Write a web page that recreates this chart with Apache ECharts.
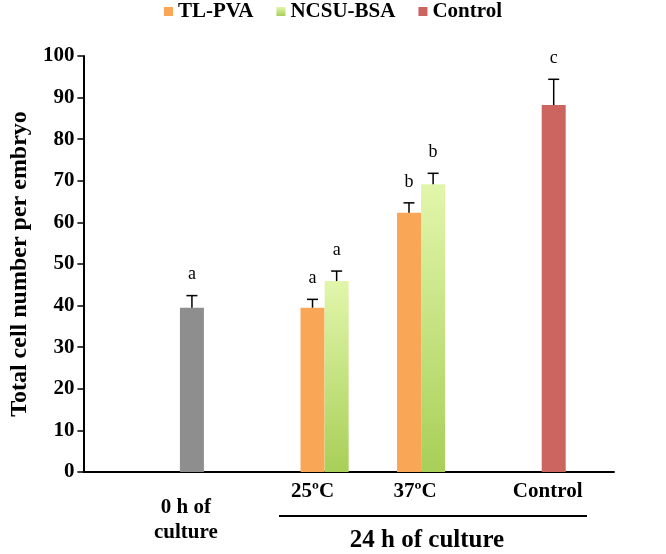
<!DOCTYPE html>
<html>
<head>
<meta charset="utf-8">
<script src="https://cdn.jsdelivr.net/npm/echarts@6/dist/echarts.min.js"></script>
<style>
html,body{margin:0;padding:0;background:#fff;}
#chart{width:666px;height:554px;}
</style>
</head>
<body>
<div id="chart"></div>
<script>
// ---- data ----
const groups = ['0 h of\nculture', '25ºC', '37ºC', 'Control'];
const legendNames = ['TL-PVA', 'NCSU-BSA', 'Control'];
const zeroHourValues = [39.5, null, null, null];
const zeroHourErrors = [2.9, null, null, null];
const zeroHourLetters = ['a', null, null, null];
const tlpvaValues = [null, 39.5, 62.3, null];
const tlpvaErrors = [null, 2.0, 2.4, null];
const tlpvaLetters = [null, 'a', 'b', null];
const ncsuValues = [null, 45.9, 69.2, null];
const ncsuErrors = [null, 2.4, 2.6, null];
const ncsuLetters = [null, 'a', 'b', null];
const controlValues = [null, null, null, 88.2];
const controlErrors = [null, null, null, 6.2];
const controlLetters = [null, null, null, 'c'];
const yTicks = [0, 10, 20, 30, 40, 50, 60, 70, 80, 90, 100];
const yTitle = 'Total cell number per embryo';
const groupTitle = '24 h of culture';

// ---- layout (fine category grid) ----
const SLOTS = 89;
const labelSlot = [17, 38, 55, 77];
const zeroSlot = [18, null, null, null];
const tlpvaSlot = [null, 38, 54, null];
const ncsuSlot = [null, 42, 58, null];
const controlSlot = [null, null, null, 78];

const xData = new Array(SLOTS).fill('');
groups.forEach((g, i) => {
  if (i === 0) {
    const parts = g.split('\n');
    xData[labelSlot[i]] = '{e| }\n{t|' + parts[0] + '}\n{t|' + parts[1] + '}';
  } else {
    xData[labelSlot[i]] = '{n|' + g + '}';
  }
});

function barData(values, slots) {
  const arr = new Array(SLOTS).fill('-');
  values.forEach((v, i) => { if (v != null) arr[slots[i]] = v; });
  return arr;
}
const errItems = [];
function addErr(values, errs, letters, slots) {
  values.forEach((v, i) => {
    if (v != null) errItems.push([slots[i], v, errs[i], letters[i]]);
  });
}
addErr(zeroHourValues, zeroHourErrors, zeroHourLetters, zeroSlot);
addErr(tlpvaValues, tlpvaErrors, tlpvaLetters, tlpvaSlot);
addErr(ncsuValues, ncsuErrors, ncsuLetters, ncsuSlot);
addErr(controlValues, controlErrors, controlLetters, controlSlot);

const FONT = "'Liberation Serif', 'Times New Roman', serif";
const chart = echarts.init(document.getElementById('chart'));
const option = {
  animation: false,
  backgroundColor: '#ffffff',
  grid: { left: 82, right: 52, top: 56, bottom: 82 },
  legend: {
    data: legendNames,
    top: 1,
    left: 'center',
    padding: 0,
    icon: 'rect',
    itemWidth: 9,
    itemHeight: 9,
    itemGap: 23,
    textStyle: { fontFamily: FONT, fontWeight: 'bold', fontSize: 21, color: '#000' }
  },
  xAxis: {
    type: 'category',
    data: xData,
    boundaryGap: false,
    axisLine: { lineStyle: { color: '#000', width: 2 } },
    axisTick: { show: false },
    splitLine: { show: false },
    axisLabel: {
      interval: 0,
      margin: 8,
      fontFamily: FONT,
      fontWeight: 'bold',
      fontSize: 21,
      color: '#000',
      rich: {
        e: { lineHeight: 15, fontSize: 10 },
        t: { lineHeight: 25, fontFamily: FONT, fontWeight: 'bold', fontSize: 21, color: '#000' },
        n: { lineHeight: 24, fontFamily: FONT, fontWeight: 'bold', fontSize: 21, color: '#000' }
      }
    }
  },
  yAxis: {
    type: 'value',
    min: yTicks[0],
    max: yTicks[yTicks.length - 1],
    interval: yTicks[1] - yTicks[0],
    name: yTitle,
    nameLocation: 'middle',
    nameGap: 47,
    nameRotate: 90,
    nameTextStyle: { fontFamily: FONT, fontWeight: 'bold', fontSize: 24, color: '#000' },
    axisLine: { show: true, lineStyle: { color: '#000', width: 2 } },
    axisTick: { show: true, length: 6, lineStyle: { color: '#000', width: 1.5 } },
    splitLine: { show: false },
    axisLabel: { fontFamily: FONT, fontWeight: 'bold', fontSize: 21, color: '#000', margin: 9 }
  },
  series: [
    {
      name: '0 h', type: 'bar', stack: 's', barWidth: 24,
      data: barData(zeroHourValues, zeroSlot),
      itemStyle: { color: '#8e8e8e' }
    },
    {
      name: 'TL-PVA', type: 'bar', stack: 's', barWidth: 24,
      data: barData(tlpvaValues, tlpvaSlot),
      itemStyle: { color: '#f9a656' }
    },
    {
      name: 'NCSU-BSA', type: 'bar', stack: 's', barWidth: 24,
      data: barData(ncsuValues, ncsuSlot),
      itemStyle: {
        color: new echarts.graphic.LinearGradient(0, 0, 0, 1, [
          { offset: 0, color: '#e2f6ab' },
          { offset: 1, color: '#a8cf58' }
        ])
      }
    },
    {
      name: 'Control', type: 'bar', stack: 's', barWidth: 24,
      data: barData(controlValues, controlSlot),
      itemStyle: { color: '#cc6560' }
    },
    {
      name: 'err', type: 'custom',
      data: errItems,
      z: 5,
      renderItem: function (params, api) {
        const x = api.value(0);
        const v = api.value(1);
        const e = api.value(2);
        const letter = errItems[params.dataIndex][3];
        const base = api.coord([x, v]);
        const top = api.coord([x, v + e]);
        return {
          type: 'group',
          children: [
            { type: 'line', shape: { x1: base[0], y1: base[1], x2: top[0], y2: top[1] },
              style: { stroke: '#000', lineWidth: 1.5 } },
            { type: 'line', shape: { x1: top[0] - 5.5, y1: top[1], x2: top[0] + 5.5, y2: top[1] },
              style: { stroke: '#000', lineWidth: 1.5 } },
            { type: 'text', x: top[0], y: top[1] - 21,
              style: { text: letter, fontFamily: FONT, fontSize: 18, fill: '#000',
                       align: 'center', verticalAlign: 'middle' } }
          ]
        };
      }
    }
  ],
  graphic: [
    { type: 'line', shape: { x1: 279, y1: 516, x2: 587, y2: 516 },
      style: { stroke: '#000', lineWidth: 2 } },
    { type: 'text', x: 427, y: 541,
      style: { text: groupTitle, fontFamily: FONT, fontWeight: 'bold', fontSize: 25, fill: '#000',
               align: 'center', verticalAlign: 'middle' } }
  ]
};
chart.setOption(option);
</script>
</body>
</html>
